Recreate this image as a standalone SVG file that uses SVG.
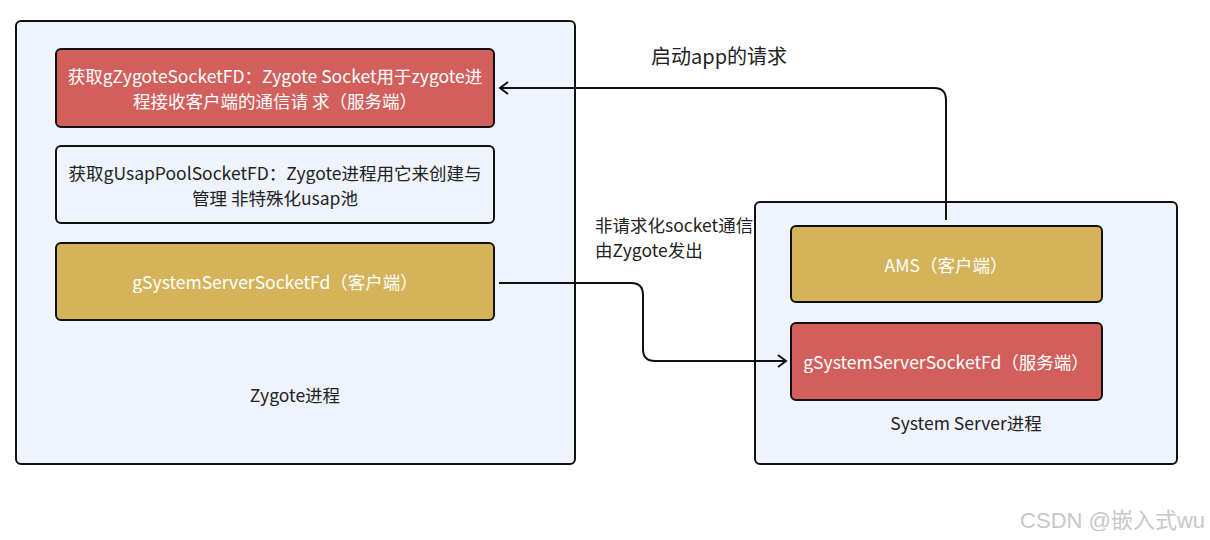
<svg xmlns="http://www.w3.org/2000/svg" width="1210" height="540" viewBox="0 0 1210 540">
<style>
.cont{fill:#eef3fc;stroke:#111;stroke-width:2}
.box{stroke:#111;stroke-width:2}
.red{fill:#d35f5c}
.yel{fill:#d4b35b}
.lt{fill:#eef3fc}
.t{font-family:"Noto Sans CJK SC","Noto Sans",sans-serif;font-size:17.5px;text-anchor:middle}
.w{fill:#fff}
.d{fill:#222}
.conn{fill:none;stroke:#111;stroke-width:2}
</style>
<defs>
<marker id="arr" markerWidth="12" markerHeight="14" refX="10" refY="7" orient="auto" markerUnits="userSpaceOnUse">
<path d="M2,1 L10,7 L2,13" fill="none" stroke="#111" stroke-width="2"/>
</marker>
</defs>
<rect width="1210" height="540" fill="#fff"/>
<g id="zygote">
<rect class="cont" x="16" y="21" width="559" height="443" rx="5"/>
<text class="t d" x="295" y="402">Zygote进程</text>
</g>
<g id="zsocket">
<rect class="box red" x="56" y="49" width="438" height="78" rx="5"/>
<text class="t w" x="275" y="83">获取gZygoteSocketFD：Zygote Socket用于zygote进</text>
<text class="t w" x="275" y="108">程接收客户端的通信请 求（服务端）</text>
</g>
<g id="usap">
<rect class="box lt" x="56" y="146" width="438" height="77" rx="5"/>
<text class="t d" x="275" y="180">获取gUsapPoolSocketFD：Zygote进程用它来创建与</text>
<text class="t d" x="275" y="205">管理 非特殊化usap池</text>
</g>
<g id="ssclient">
<rect class="box yel" x="56" y="243" width="438" height="77" rx="5"/>
<text class="t w" x="275" y="289">gSystemServerSocketFd（客户端）</text>
</g>
<g id="systemserver">
<rect class="cont" x="755" y="202" width="422" height="262" rx="5"/>
<text class="t d" x="966" y="430">System Server进程</text>
</g>
<g id="ams">
<rect class="box yel" x="791" y="226" width="311" height="76" rx="5"/>
<text class="t w" x="946" y="272">AMS（客户端）</text>
</g>
<g id="ssserver">
<rect class="box red" x="791" y="323" width="311" height="77" rx="5"/>
<text class="t w" x="946" y="369">gSystemServerSocketFd（服务端）</text>
</g>
<g id="connectors">
<path class="conn" d="M946,220 V100 Q946,88 934,88 H500" marker-end="url(#arr)"/>
<path class="conn" d="M499,283 H631 Q643,283 643,295 V349 Q643,361 655,361 H786" marker-end="url(#arr)"/>
<text class="t d" x="719" y="64" style="font-size:20px">启动app的请求</text>
<text class="t d" x="595" y="232" style="font-size:17.5px;text-anchor:start">非请求化socket通信</text>
<text class="t d" x="595" y="257" style="font-size:17.5px;text-anchor:start">由Zygote发出</text>
</g>
<text x="1205" y="528" style="font-family:'Liberation Sans','Noto Sans CJK SC',sans-serif;font-size:22px;text-anchor:end" fill="#c8c8c8">CSDN @嵌入式wu</text>
</svg>
